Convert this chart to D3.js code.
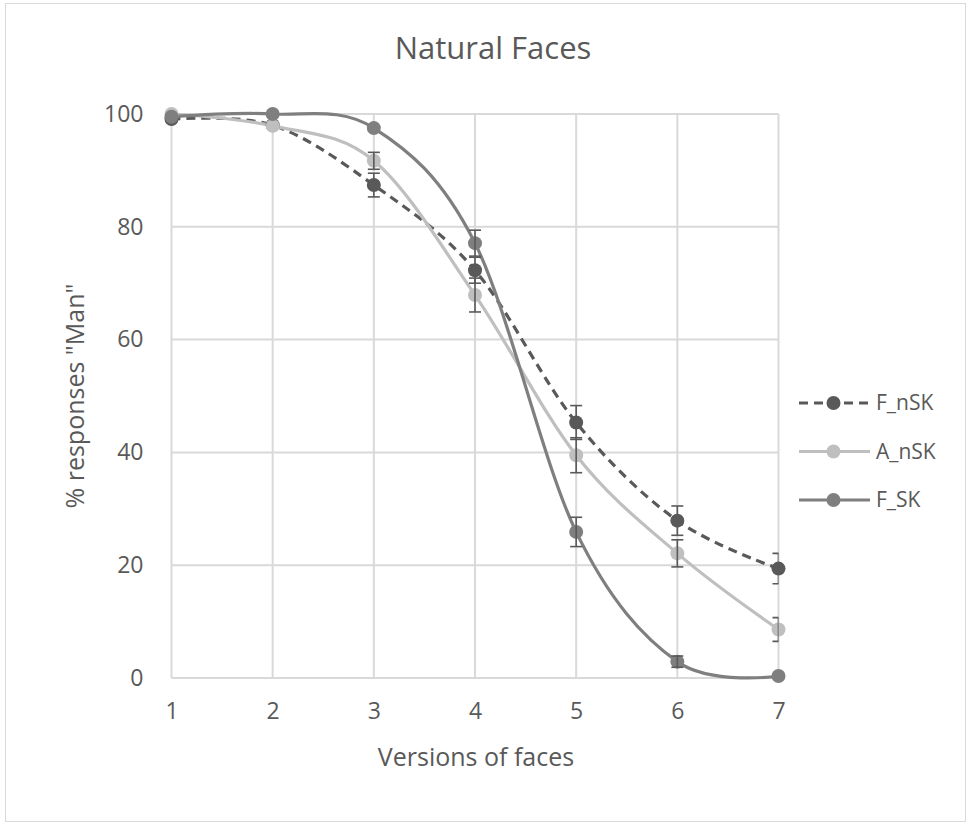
<!DOCTYPE html>
<html>
<head>
<meta charset="utf-8">
<script src="https://cdn.jsdelivr.net/npm/d3@7"></script>
<style>
  body{margin:0;background:#fff}
  text{font-family:"Open Sans",sans-serif;fill:#595959}
</style>
</head>
<body>
<svg id="chart" width="968" height="824"></svg>
<script>
// versions of faces on the x axis
var versions=[1,2,3,4,5,6,7]
var yTicks=[0,20,40,60,80,100]
var seriesNames=['F_nSK','A_nSK','F_SK']
// % responses "Man"
var fNSK=[99.1,98,87.4,72.3,45.3,27.9,19.4]
var aNSK=[100,97.9,91.7,67.9,39.5,22.1,8.6]
var fSK=[99.5,100,97.5,77.1,25.9,2.9,0.35]
// error bar half-lengths
var fNSKerr=[0.5,0.5,2.1,2.3,3,2.6,2.7]
var aNSKerr=[0.3,0.5,1.5,3,3.1,2.4,2.1]
var fSKerr=[0.3,0.3,0.5,2.3,2.6,1,0.3]

var styles={
  'F_nSK':{color:'#595959',dash:'9,6'},
  'A_nSK':{color:'#bfbfbf',dash:null},
  'F_SK':{color:'#7f7f7f',dash:null}
}
var series=[
  {name:'F_nSK',values:fNSK,err:fNSKerr},
  {name:'A_nSK',values:aNSK,err:aNSKerr},
  {name:'F_SK',values:fSK,err:fSKerr}
]

var svg=d3.select('#chart')
svg.append('rect').attr('x',5.5).attr('y',3.5).attr('width',960).attr('height',818)
  .attr('fill','#fff').attr('stroke','#d9d9d9').attr('stroke-width',1)

var x=d3.scaleLinear().domain([1,7]).range([171.5,778.5])
var y=d3.scaleLinear().domain([0,100]).range([678,114])

// gridlines
var grid=svg.append('g')
grid.selectAll('line.h').data(yTicks).enter().append('line')
  .attr('x1',x(1)).attr('x2',x(7)).attr('y1',function(d){return y(d)}).attr('y2',function(d){return y(d)})
  .attr('stroke','#d9d9d9').attr('stroke-width',2)
grid.selectAll('line.v').data(versions).enter().append('line')
  .attr('y1',y(0)).attr('y2',y(100)).attr('x1',function(d){return x(d)}).attr('x2',function(d){return x(d)})
  .attr('stroke','#d9d9d9').attr('stroke-width',2)

// axes (labels only)
var xAxis=svg.append('g').attr('transform','translate(0,'+y(0)+')')
  .call(d3.axisBottom(x).tickValues(versions).tickSize(0).tickPadding(25).tickFormat(d3.format('d')))
var yAxis=svg.append('g').attr('transform','translate('+x(1)+',0)')
  .call(d3.axisLeft(y).tickValues(yTicks).tickSize(0).tickPadding(28))
svg.selectAll('.domain').remove()
svg.selectAll('.tick text').attr('font-size',23).attr('fill','#595959')
  .style('font-family','"Open Sans",sans-serif')

svg.append('text').attr('x',493).attr('y',59).attr('text-anchor','middle')
  .attr('font-size',31).text('Natural Faces')
svg.append('text').attr('x',476).attr('y',766).attr('text-anchor','middle')
  .attr('font-size',25).text('Versions of faces')
svg.append('text').attr('transform','translate(84,396) rotate(-90)').attr('text-anchor','middle')
  .attr('font-size',25).text('% responses "Man"')

svg.append('clipPath').attr('id','plotclip').append('rect')
  .attr('x',x(1)-20).attr('y',0).attr('width',x(7)-x(1)+20).attr('height',824)

var line=d3.line().curve(d3.curveCardinal.tension(0))
  .x(function(d,i){return x(versions[i])}).y(function(d){return y(d)})

var plot=svg.append('g')
plot.selectAll('path.series').data(series).enter().append('path')
  .attr('d',function(s){return line(s.values)})
  .attr('fill','none').attr('stroke',function(s){return styles[s.name].color})
  .attr('stroke-width',3.2).attr('stroke-dasharray',function(s){return styles[s.name].dash})

series.forEach(function(s){
  plot.append('g').selectAll('circle').data(s.values).enter().append('circle')
    .attr('cx',function(d,i){return x(versions[i])}).attr('cy',function(d){return y(d)})
    .attr('r',7).attr('fill',styles[s.name].color)
})

// error bars
var eb=plot.append('g').attr('clip-path','url(#plotclip)').attr('stroke','#595959').attr('stroke-width',1.6)
series.forEach(function(s){
  s.values.forEach(function(v,i){
    var cx=x(versions[i]),e=s.err[i]
    if(e<0.8) return
    eb.append('line').attr('x1',cx).attr('x2',cx).attr('y1',y(v-e)).attr('y2',y(v+e))
    eb.append('line').attr('x1',cx-6).attr('x2',cx+6).attr('y1',y(v-e)).attr('y2',y(v-e))
    eb.append('line').attr('x1',cx-6).attr('x2',cx+6).attr('y1',y(v+e)).attr('y2',y(v+e))
  })
})

// legend
var legend=svg.append('g').selectAll('g.legend').data(series).enter().append('g')
  .attr('transform',function(d,i){return 'translate(799,'+(403+i*48.5)+')'})
legend.append('line').attr('x1',0).attr('x2',71)
  .attr('stroke',function(d){return styles[d.name].color}).attr('stroke-width',3.2)
  .attr('stroke-dasharray',function(d){return styles[d.name].dash})
legend.append('circle').attr('cx',34.5).attr('r',7).attr('fill',function(d){return styles[d.name].color})
legend.append('text').attr('x',77).attr('dy','0.35em').attr('font-size',21).text(function(d){return d.name})
</script>
</body>
</html>
